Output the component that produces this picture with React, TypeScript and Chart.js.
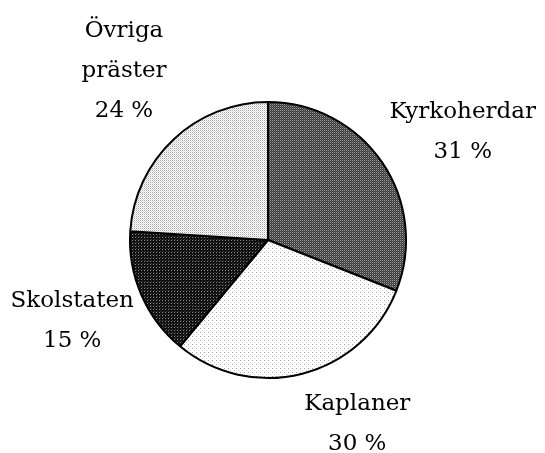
import { useEffect, useRef } from "react";
import { Chart, registerables } from "chart.js";

Chart.register(...registerables);

// ---- data ----
const categories = ["Kyrkoherdar", "Kaplaner", "Skolstaten", "Övriga präster"];
const shares = [31, 30, 15, 24];
const labelLines = [["Kyrkoherdar"], ["Kaplaner"], ["Skolstaten"], ["Övriga", "präster"]];

type Dot = [number, number, string];

function makePattern(ctx: CanvasRenderingContext2D, size: number, base: string, dots: Dot[]) {
  const c = document.createElement("canvas");
  c.width = size;
  c.height = size;
  const g = c.getContext("2d")!;
  g.fillStyle = base;
  g.fillRect(0, 0, size, size);
  for (const [x, y, col] of dots) {
    g.fillStyle = col;
    g.fillRect(x, y, 1, 1);
  }
  return ctx.createPattern(c, "repeat")!;
}

const outerLabels = {
  id: "outerLabels",
  afterDatasetsDraw(chart: any, _args: any, opts: any) {
    const ctx: CanvasRenderingContext2D = chart.ctx;
    const meta = chart.getDatasetMeta(0);
    ctx.save();
    ctx.font = opts.font;
    ctx.fillStyle = "#000";
    ctx.textAlign = "center";
    ctx.textBaseline = "alphabetic";
    meta.data.forEach((arc: any, i: number) => {
      const { x, y, startAngle, endAngle, outerRadius } = arc.getProps(
        ["x", "y", "startAngle", "endAngle", "outerRadius"],
        true
      );
      const mid = (startAngle + endAngle) / 2 + (opts.angleShift[i] * Math.PI) / 180;
      const d = outerRadius * opts.distance[i];
      const cx = x + Math.cos(mid) * d;
      const cy = y + Math.sin(mid) * d;
      const lines = [...labelLines[i], `${shares[i]} %`];
      const first = cy - ((lines.length - 1) * opts.lineHeight) / 2 + opts.capHalf;
      lines.forEach((t, k) => ctx.fillText(t, cx, first + k * opts.lineHeight));
    });
    ctx.restore();
  },
};

export default function App() {
  const canvasRef = useRef<HTMLCanvasElement | null>(null);

  useEffect(() => {
    const canvas = canvasRef.current!;
    const ctx = canvas.getContext("2d")!;
    const fills = [
      makePattern(ctx, 2, "#3c3c3c", [
        [0, 0, "#9a9a9a"],
        [1, 1, "#5a5a5a"],
      ]),
      makePattern(ctx, 4, "#ffffff", [
        [0, 0, "#a0a0a0"],
        [2, 2, "#d0d0d0"],
      ]),
      makePattern(ctx, 3, "#101010", [
        [0, 0, "#8a8a8a"],
        [1, 2, "#3a3a3a"],
      ]),
      makePattern(ctx, 2, "#ffffff", [
        [0, 0, "#a8a8a8"],
        [1, 1, "#dcdcdc"],
      ]),
    ];

    const chart = new Chart(canvas, {
      type: "pie",
      data: {
        labels: categories,
        datasets: [
          {
            data: shares,
            backgroundColor: fills as any,
            borderColor: "#000000",
            borderWidth: 2,
            hoverOffset: 0,
          },
        ],
      },
      options: {
        responsive: false,
        animation: false,
        events: [],
        layout: { padding: { left: 129, right: 138, top: 100, bottom: 73 } },
        plugins: {
          legend: { display: false },
          tooltip: { enabled: false },
          outerLabels: {
            font: '23px "DejaVu Serif"',
            lineHeight: 40,
            capHalf: 8,
            angleShift: [4.8, -11.7, 1.4, 3.1],
            distance: [1.62, 1.47, 1.53, 1.62],
          },
        } as any,
      },
      plugins: [outerLabels],
    });
    return () => chart.destroy();
  }, []);

  return (
    <div style={{ position: "absolute", left: 0, top: 0, width: 545, height: 453, background: "#fff" }}>
      <canvas ref={canvasRef} width={545} height={453} style={{ display: "block" }} />
    </div>
  );
}
